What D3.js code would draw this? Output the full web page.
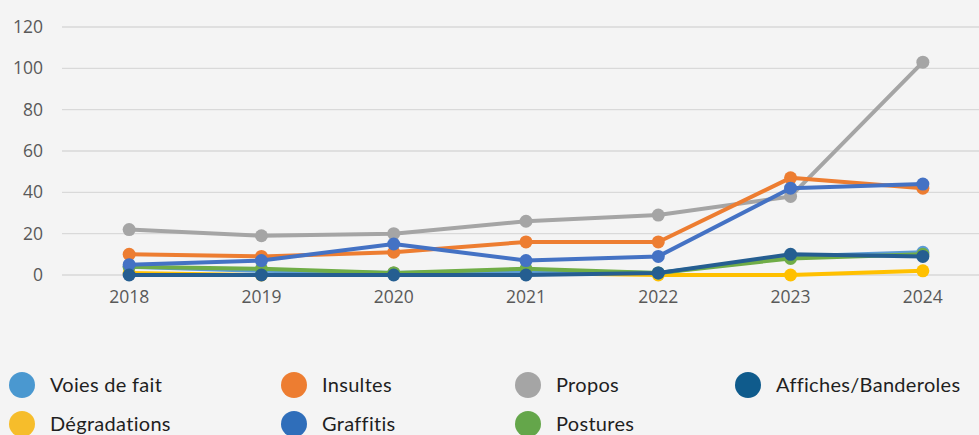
<!DOCTYPE html>
<html>
<head>
<meta charset="utf-8">
<script src="https://cdn.jsdelivr.net/npm/d3@7"></script>
<style>
  html, body { margin: 0; padding: 0; background: #f4f4f4; }
  svg { display: block; }
</style>
</head>
<body>
<svg id="chart" width="979" height="435"></svg>
<script>
// Incidents recorded per year, by type
const years = ["2018", "2019", "2020", "2021", "2022", "2023", "2024"];
const yTicks = [0, 20, 40, 60, 80, 100, 120];

const voiesDeFait   = [4, 2, 1, 2, 1, 9, 11];
const insultes      = [10, 9, 11, 16, 16, 47, 42];
const propos        = [22, 19, 20, 26, 29, 38, 103];
const affiches      = [0, 0, 0, 0, 1, 10, 9];
const degradations  = [1, 0, 1, 1, 0, 0, 2];
const graffitis     = [5, 7, 15, 7, 9, 42, 44];
const postures      = [4, 3, 1, 3, 1, 8, 10];

// Legend entries (4 columns, 2 rows)
const legendItems = [
  { name: "Voies de fait", color: "#4a98d0", col: 0, row: 0 },
  { name: "Insultes", color: "#ed7d31", col: 1, row: 0 },
  { name: "Propos", color: "#a5a5a5", col: 2, row: 0 },
  { name: "Affiches/Banderoles", color: "#0f5b8c", col: 3, row: 0 },
  { name: "Dégradations", color: "#f6bd2b", col: 0, row: 1 },
  { name: "Graffitis", color: "#2f6eba", col: 1, row: 1 },
  { name: "Postures", color: "#64a64a", col: 2, row: 1 }
];

// Series in drawing order (later ones sit on top)
const series = [
  { name: "Propos", values: propos, color: "#a5a5a5" },
  { name: "Dégradations", values: degradations, color: "#ffc000" },
  { name: "Voies de fait", values: voiesDeFait, color: "#5b9bd5" },
  { name: "Postures", values: postures, color: "#70ad47" },
  { name: "Insultes", values: insultes, color: "#ed7d31" },
  { name: "Graffitis", values: graffitis, color: "#4472c4" },
  { name: "Affiches/Banderoles", values: affiches, color: "#255e91" }
];

const svg = d3.select("#chart");
const font = "'Open Sans', 'Noto Sans', sans-serif";

const x = d3.scaleBand().domain(years).range([63, 989]);
const y = d3.scaleLinear().domain([0, 120]).range([275, 27]);

// Gridlines
svg.append("g")
  .selectAll("line")
  .data(yTicks)
  .join("line")
  .attr("x1", 62).attr("x2", 979)
  .attr("y1", d => y(d)).attr("y2", d => y(d))
  .attr("stroke", "#d9d9d9").attr("stroke-width", 1.3);

// Y axis labels
const yAxis = svg.append("g")
  .attr("transform", "translate(43,0)")
  .call(d3.axisLeft(y).tickValues(yTicks).tickSize(0).tickPadding(0));
yAxis.select(".domain").remove();
yAxis.selectAll("text")
  .attr("fill", "#595959")
  .style("font-family", font)
  .style("font-size", "17.5px");

// X axis labels
const xAxis = svg.append("g")
  .attr("transform", "translate(0,291)")
  .call(d3.axisBottom(x).tickSize(0).tickPadding(0));
xAxis.select(".domain").remove();
xAxis.selectAll("text")
  .attr("fill", "#595959")
  .style("font-family", font)
  .style("font-size", "17.5px");

const cx = (d, i) => x(years[i]) + x.bandwidth() / 2;
const line = d3.line()
  .x((d, i) => cx(d, i))
  .y(d => y(d));

const g = svg.append("g");
series.forEach(s => {
  const sg = g.append("g");
  sg.append("path")
    .datum(s.values)
    .attr("d", line)
    .attr("fill", "none")
    .attr("stroke", s.color)
    .attr("stroke-width", 4)
    .attr("stroke-linejoin", "round")
    .attr("stroke-linecap", "round");
  sg.selectAll("circle")
    .data(s.values)
    .join("circle")
    .attr("cx", (d, i) => cx(d, i))
    .attr("cy", d => y(d))
    .attr("r", 6.5)
    .attr("fill", s.color);
});

// Legend
const colX = [22, 294, 528, 748];
const rowY = [385, 424];
const lg = svg.append("g")
  .selectAll("g")
  .data(legendItems)
  .join("g")
  .attr("transform", d => `translate(${colX[d.col]},${rowY[d.row]})`);
lg.append("circle")
  .attr("r", 13)
  .attr("fill", d => d.color);
lg.append("text")
  .attr("x", 28)
  .attr("y", 7)
  .attr("fill", "#1f1f1f")
  .style("font-family", "Lato, 'Noto Sans', sans-serif")
  .style("font-size", "20px")
  .style("letter-spacing", "0.3px")
  .text(d => d.name);
</script>
</body>
</html>
